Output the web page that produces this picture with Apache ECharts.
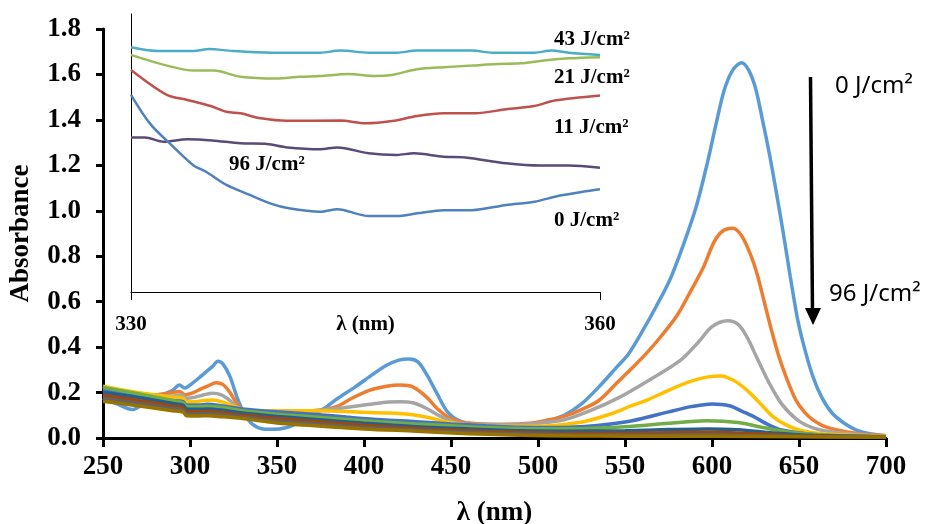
<!DOCTYPE html>
<html>
<head>
<meta charset="utf-8">
<script src="https://cdn.jsdelivr.net/npm/echarts@6/dist/echarts.min.js"></script>
<style>
  html, body { margin: 0; padding: 0; background: #fff; }
  #chart { width: 934px; height: 524px; }
</style>
</head>
<body>
<div id="chart"></div>
<script>
// main spectra, [wavelength nm, absorbance]
var spec1 = [[250,0.175],[258,0.15],[267,0.125],[275,0.16],[282,0.185],[290,0.21],[294,0.233],[297,0.22],[302,0.245],[306,0.27],[309,0.29],[313,0.315],[316,0.338],[319,0.325],[323,0.27],[327,0.18],[331,0.11],[336,0.06],[342,0.04],[348,0.038],[355,0.045],[362,0.065],[370,0.10],[377,0.13],[385,0.175],[395,0.225],[405,0.28],[413,0.32],[420,0.343],[426,0.348],[431,0.335],[436,0.28],[442,0.195],[448,0.115],[455,0.075],[465,0.06],[480,0.058],[495,0.062],[505,0.075],[515,0.10],[525,0.15],[535,0.225],[545,0.31],[552,0.37],[560,0.47],[568,0.58],[576,0.70],[584,0.86],[591,1.02],[597,1.20],[602,1.37],[607,1.53],[612,1.62],[617,1.652],[621,1.62],[625,1.54],[629,1.40],[633,1.25],[637,1.08],[641,0.90],[645,0.71],[649,0.53],[653,0.40],[658,0.27],[663,0.18],[669,0.11],[676,0.065],[683,0.035],[690,0.02],[700,0.01]];
var spec2 = [[250,0.19],[265,0.185],[280,0.19],[290,0.2],[294,0.205],[297,0.19],[302,0.2],[306,0.215],[310,0.228],[315,0.243],[319,0.235],[323,0.2],[327,0.15],[331,0.12],[340,0.115],[350,0.113],[360,0.115],[370,0.12],[378,0.125],[385,0.14],[393,0.175],[403,0.21],[413,0.228],[421,0.233],[428,0.225],[436,0.18],[442,0.13],[448,0.094],[455,0.072],[465,0.063],[480,0.06],[495,0.065],[505,0.078],[515,0.095],[525,0.125],[535,0.165],[545,0.24],[553,0.30],[562,0.37],[571,0.45],[580,0.54],[588,0.65],[595,0.75],[601,0.86],[606,0.91],[612,0.923],[617,0.89],[622,0.81],[626,0.72],[630,0.60],[634,0.48],[638,0.37],[643,0.26],[648,0.17],[653,0.115],[658,0.08],[665,0.05],[677,0.028],[690,0.015],[700,0.01]];
var spec3 = [[250,0.2],[270,0.19],[290,0.185],[295,0.19],[298,0.175],[303,0.18],[308,0.19],[313,0.197],[318,0.19],[323,0.165],[328,0.13],[333,0.12],[350,0.115],[370,0.12],[385,0.13],[395,0.14],[405,0.15],[414,0.158],[421,0.16],[428,0.155],[436,0.13],[444,0.095],[452,0.07],[462,0.06],[480,0.058],[500,0.065],[515,0.08],[530,0.12],[547,0.18],[565,0.26],[582,0.343],[592,0.42],[600,0.49],[609,0.516],[615,0.5],[620,0.446],[626,0.35],[633,0.24],[640,0.15],[649,0.08],[658,0.045],[668,0.028],[685,0.015],[700,0.008]];
var spec4 = [[250,0.228],[270,0.2],[290,0.18],[296,0.175],[298,0.16],[303,0.16],[308,0.165],[313,0.167],[318,0.16],[325,0.14],[332,0.122],[350,0.12],[370,0.12],[385,0.118],[400,0.113],[412,0.11],[420,0.108],[428,0.102],[437,0.09],[447,0.072],[460,0.058],[480,0.052],[500,0.052],[515,0.06],[528,0.075],[543,0.109],[553,0.14],[563,0.168],[575,0.21],[588,0.25],[597,0.268],[605,0.273],[612,0.255],[620,0.211],[628,0.15],[635,0.094],[642,0.06],[650,0.035],[662,0.02],[680,0.012],[700,0.007]];
var spec5 = [[250,0.21],[270,0.185],[290,0.165],[296,0.16],[298,0.145],[305,0.145],[310,0.148],[318,0.142],[330,0.128],[350,0.115],[370,0.105],[390,0.092],[410,0.08],[430,0.072],[450,0.062],[470,0.054],[490,0.047],[510,0.046],[534,0.055],[550,0.07],[562,0.09],[575,0.115],[588,0.138],[600,0.15],[610,0.142],[618,0.115],[624,0.094],[632,0.06],[640,0.035],[655,0.018],[675,0.01],[700,0.006]];
var spec6 = [[250,0.222],[270,0.195],[290,0.165],[296,0.155],[298,0.14],[305,0.138],[310,0.14],[318,0.135],[330,0.12],[350,0.105],[370,0.094],[400,0.076],[430,0.062],[460,0.05],[490,0.042],[520,0.041],[550,0.05],[575,0.065],[597,0.076],[615,0.068],[630,0.045],[645,0.025],[665,0.012],[700,0.006]];
var spec7 = [[250,0.2],[270,0.178],[290,0.152],[296,0.145],[298,0.128],[305,0.126],[310,0.128],[318,0.123],[330,0.11],[350,0.095],[370,0.083],[400,0.065],[430,0.05],[460,0.04],[490,0.032],[520,0.03],[550,0.032],[575,0.037],[597,0.04],[615,0.036],[635,0.022],[655,0.012],[700,0.005]];
var spec8 = [[250,0.188],[270,0.165],[290,0.14],[296,0.133],[298,0.117],[305,0.115],[310,0.117],[318,0.112],[330,0.1],[350,0.086],[370,0.074],[400,0.056],[430,0.042],[460,0.032],[490,0.024],[520,0.021],[550,0.021],[575,0.023],[597,0.025],[620,0.02],[645,0.011],[700,0.005]];
var spec9 = [[250,0.175],[270,0.153],[290,0.13],[296,0.123],[298,0.107],[305,0.106],[310,0.107],[318,0.102],[330,0.093],[350,0.076],[370,0.064],[400,0.047],[430,0.035],[460,0.025],[490,0.018],[520,0.014],[550,0.013],[580,0.014],[600,0.014],[630,0.009],[700,0.004]];
var spec10 = [[250,0.162],[270,0.142],[290,0.12],[296,0.114],[298,0.098],[305,0.097],[310,0.098],[318,0.094],[330,0.086],[350,0.066],[370,0.055],[400,0.04],[430,0.03],[460,0.019],[490,0.012],[520,0.009],[550,0.008],[600,0.008],[650,0.005],[700,0.004]];
var mainSpectra = [spec1, spec2, spec3, spec4, spec5, spec6, spec7, spec8, spec9, spec10];
var mainColors = ['#5B9BD5','#ED7D31','#A5A5A5','#FFC000','#4472C4','#70AD47','#255E91','#9E480E','#636363','#997300'];
var xTicks = [250, 700, 50];
var yTicks = [0, 1.8, 0.2];

// inset spectra 330-360 nm (same absorbance scale)
var inset43 = [[330,1.72],[331.8,1.703],[334,1.703],[335,1.712],[336.5,1.703],[339,1.696],[342.1,1.696],[343.4,1.705],[345.2,1.696],[347,1.696],[348.3,1.705],[351.8,1.705],[353.1,1.696],[355.8,1.696],[356.9,1.705],[358,1.696],[360,1.686]];
var inset21 = [[330,1.686],[332.3,1.639],[334,1.617],[335.3,1.617],[337,1.59],[339.3,1.582],[340.8,1.59],[342.1,1.593],[343.9,1.602],[345.6,1.593],[346.7,1.598],[348.3,1.623],[350,1.632],[351.8,1.639],[353.4,1.646],[354.9,1.649],[356.7,1.664],[358,1.671],[360,1.676]];
var inset11 = [[330,1.62],[332.3,1.51],[333.6,1.488],[335.1,1.461],[336.1,1.436],[337,1.429],[338.3,1.407],[340,1.396],[343.4,1.397],[345,1.385],[346.7,1.395],[348.3,1.417],[350,1.429],[352,1.429],[354,1.447],[355.8,1.461],[357.1,1.485],[360,1.507]];
var inset96 = [[330,1.323],[330.9,1.323],[332.1,1.304],[333.6,1.315],[335.2,1.31],[337,1.297],[338.7,1.294],[340,1.279],[342.1,1.271],[343.2,1.279],[345.2,1.253],[347,1.246],[348.1,1.253],[350,1.238],[351.4,1.235],[354,1.209],[356.2,1.199],[358,1.199],[360,1.19]];
var inset0 = [[330,1.51],[331.2,1.385],[332.7,1.282],[334,1.2],[334.8,1.172],[336.1,1.114],[337.6,1.07],[338.9,1.033],[340.1,1.011],[342.1,0.996],[343.2,1.007],[345.2,0.977],[347,0.977],[348.3,0.989],[350,1.003],[351.8,1.003],[354,1.026],[355.8,1.04],[357.3,1.065],[358.9,1.084],[360,1.095]];
var insetSpectra = [inset43, inset21, inset11, inset96, inset0];
var insetColors = ['#4BACC6','#9BBB59','#C0504D','#5A4A78','#4F81BD'];
var insetLabels = ['43 J/cm²', '21 J/cm²', '11 J/cm²', '96 J/cm²', '0 J/cm²'];
var insetRange = [0.643, 1.866];

var serif = '"Liberation Serif", "Times New Roman", serif';
var chart = echarts.init(document.getElementById('chart'));

var series = [];
mainSpectra.forEach(function (d, i) {
  series.push({
    type: 'line', xAxisIndex: 0, yAxisIndex: 0, data: d,
    showSymbol: false, smooth: 0.3,
    lineStyle: { color: mainColors[i], width: 3.5 }
  });
});
insetSpectra.forEach(function (d, i) {
  series.push({
    type: 'line', xAxisIndex: 1, yAxisIndex: 1, data: d,
    showSymbol: false, smooth: 0.3,
    lineStyle: { color: insetColors[i], width: 2.5 }
  });
});

var labelStyle = { fontFamily: serif, fontWeight: 'bold', fontSize: 21, fill: '#000' };

option = {
  animation: false,
  backgroundColor: '#fff',
  grid: [
    { left: 103, right: 48, top: 29, bottom: 86, outerBoundsMode: 'none' },
    { left: 131, right: 334, top: 14, bottom: 232, outerBoundsMode: 'none' }
  ],
  xAxis: [
    {
      type: 'value', min: xTicks[0], max: xTicks[1], interval: xTicks[2],
      name: 'λ (nm)', nameLocation: 'middle', nameGap: 62, nameMoveOverlap: false,
      nameTextStyle: { fontFamily: serif, fontWeight: 'bold', fontSize: 27, color: '#000' },
      axisLine: { lineStyle: { color: '#000', width: 3 } },
      axisTick: { length: 9, lineStyle: { color: '#000', width: 3 } },
      axisLabel: { margin: 16, fontFamily: serif, fontWeight: 'bold', fontSize: 27, color: '#000' },
      splitLine: { show: false }
    },
    {
      gridIndex: 1, type: 'value', min: 330, max: 360, interval: 30,
      name: 'λ (nm)', nameLocation: 'middle', nameGap: 22, nameMoveOverlap: false,
      nameTextStyle: { fontFamily: serif, fontWeight: 'bold', fontSize: 21, color: '#000' },
      axisLine: { lineStyle: { color: '#000', width: 1 } },
      axisTick: { length: 8, lineStyle: { color: '#000', width: 1 } },
      axisLabel: { margin: 22, fontFamily: serif, fontWeight: 'bold', fontSize: 21, color: '#000' },
      splitLine: { show: false }
    }
  ],
  yAxis: [
    {
      type: 'value', min: yTicks[0], max: yTicks[1], interval: yTicks[2],
      name: 'Absorbance', nameLocation: 'middle', nameGap: 68, nameMoveOverlap: false,
      nameTextStyle: { fontFamily: serif, fontWeight: 'bold', fontSize: 27, color: '#000' },
      axisLine: { show: true, lineStyle: { color: '#000', width: 3 } },
      axisTick: { show: true, length: 7, lineStyle: { color: '#000', width: 3 } },
      axisLabel: {
        margin: 22, fontFamily: serif, fontWeight: 'bold', fontSize: 27, color: '#000',
        formatter: function (v) { return v.toFixed(1); }
      },
      splitLine: { show: false }
    },
    {
      gridIndex: 1, type: 'value', min: insetRange[0], max: insetRange[1],
      axisLine: { show: true, lineStyle: { color: '#000', width: 1 } },
      axisTick: { show: false }, axisLabel: { show: false },
      splitLine: { show: false }
    }
  ],
  graphic: [
    { type: 'text', left: 554, top: 29, style: Object.assign({ text: insetLabels[0] }, labelStyle) },
    { type: 'text', left: 554, top: 67, style: Object.assign({ text: insetLabels[1] }, labelStyle) },
    { type: 'text', left: 554, top: 117, style: Object.assign({ text: insetLabels[2] }, labelStyle) },
    { type: 'text', left: 229, top: 154, style: Object.assign({ text: insetLabels[3] }, labelStyle) },
    { type: 'text', left: 554, top: 210, style: Object.assign({ text: insetLabels[4] }, labelStyle) },
    // arrow
    { type: 'line', shape: { x1: 810.5, y1: 77, x2: 812.5, y2: 312 }, style: { stroke: '#000', lineWidth: 3.5 } },
    { type: 'polygon', shape: { points: [[805, 308], [821, 308], [813, 325]] }, style: { fill: '#000' } },
    { type: 'text', left: 835, top: 74, style: { text: '0 J/cm²', fontFamily: '"Noto Sans", "Open Sans", sans-serif', fontSize: 24, fill: '#000' } },
    { type: 'text', left: 829, top: 282, style: { text: '96 J/cm²', fontFamily: '"Noto Sans", "Open Sans", sans-serif', fontSize: 24, fill: '#000' } }
  ],
  series: series
};
chart.setOption(option);
</script>
</body>
</html>
